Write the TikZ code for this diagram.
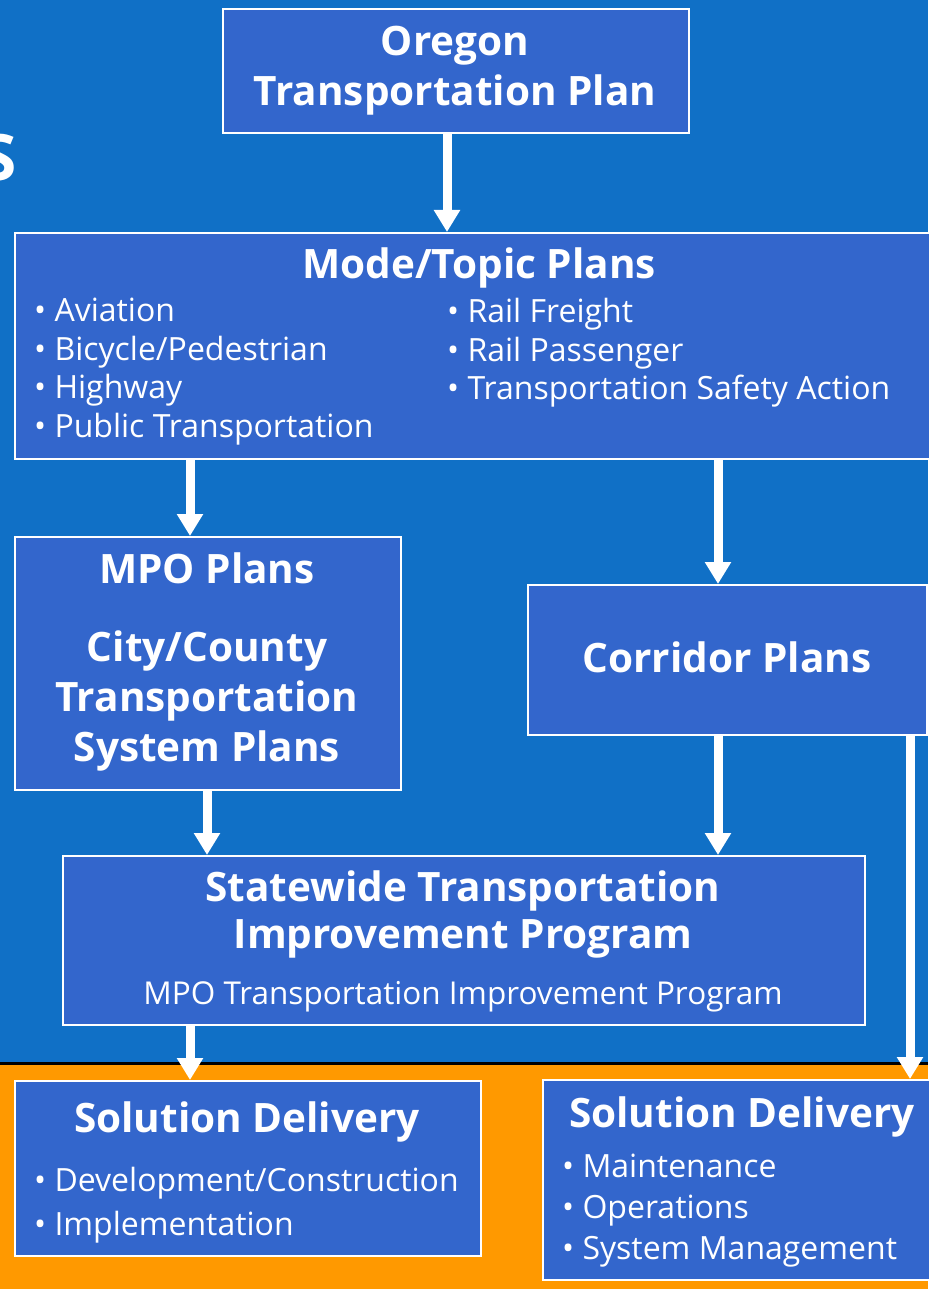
\documentclass[tikz,border=0pt]{standalone}
\usepackage{fontspec}
\setmainfont{Open Sans}
\usetikzlibrary{arrows.meta}

\definecolor{skyblue}{HTML}{1070C6}
\definecolor{boxblue}{HTML}{3366CC}
\definecolor{deliveryorange}{HTML}{FF9900}

\tikzset{
  plan/.style={draw=white, line width=2pt, fill=boxblue, text=white, inner sep=0pt, anchor=north west},
  flow/.style={draw=white, line width=9pt, -{Triangle[width=25pt,length=22pt]}},
  head/.style={font=\fontsize{40.5}{50}\selectfont\bfseries, text=white, align=center, inner sep=0pt},
  items/.style={font=\fontsize{32}{38.5}\selectfont, text=white, align=left, inner sep=0pt, anchor=north west}
}

\begin{document}
\begin{tikzpicture}[x=1pt, y=-1pt]
\useasboundingbox (0,0) rectangle (928,1289);
% Draw background
\fill[skyblue] (0,0) rectangle (928,1063);
\fill[deliveryorange] (0,1063) rectangle (928,1289);
\draw[black, line width=3pt] (0,1063.5) -- (928,1063.5);
\begin{scope}
\clip (0,0) rectangle (928,1289);
\node[head, font=\fontsize{64}{64}\selectfont\bfseries, anchor=east] (title) at (17,158) {S};
\end{scope}
% Draw plan boxes
\node[plan, minimum width=466, minimum height=124] (otp) at (222,8) {};
\node[head] at (455,71) {Oregon\\Transportation Plan};
\node[plan, minimum width=920, minimum height=226] (mode) at (14,232) {};
\node[head] (modetitle) at (479,268) {Mode/Topic Plans};
\node[items] (modeleft) at (34,298) {• Aviation\\• Bicycle/Pedestrian\\• Highway\\• Public Transportation};
\node[items] (moderight) at (447,298) {• Rail Freight\\• Rail Passenger\\• Transportation Safety Action};
\node[plan, minimum width=386, minimum height=253] (mpo) at (14,536) {};
\node[head] at (207,662) {MPO Plans\\[28pt]City/County\\Transportation\\System Plans};
\node[plan, minimum width=399, minimum height=150] (corridor) at (527,584) {};
\node[head] at (727,657) {Corridor Plans};
\node[plan, minimum width=802, minimum height=169] (stip) at (62,855) {};
\node[head] at (463,941) {Statewide Transportation\\[-3pt]Improvement Program\\[6pt]{\fontsize{31.5}{32}\selectfont\mdseries MPO Transportation Improvement Program}};
% Draw delivery boxes
\node[plan, minimum width=466, minimum height=175] (sdleft) at (14,1080) {};
\node[head] (sdlefttitle) at (247,1122) {Solution Delivery};
\node[items, font=\fontsize{32}{44}\selectfont] (sdleftitems) at (34,1167) {• Development/Construction\\• Implementation};
\node[plan, minimum width=392, minimum height=200] (sdright) at (542,1079) {};
\node[head] (sdrighttitle) at (742,1117) {Solution Delivery};
\node[items, font=\fontsize{32}{41}\selectfont] (sdrightitems) at (562,1154) {• Maintenance\\• Operations\\• System Management};
% Draw arrows
\coordinate (topx) at (447,0);
\coordinate (leftx) at (190,0);
\coordinate (mpox) at (207,0);
\coordinate (midx) at (718,0);
\coordinate (edgex) at (910,0);
\draw[flow] (otp.south -| topx) -- (mode.north -| topx);
\draw[flow] (mode.south -| leftx) -- (mpo.north -| leftx);
\draw[flow] (mode.south -| midx) -- (corridor.north -| midx);
\draw[flow] (mpo.south -| mpox) -- (stip.north -| mpox);
\draw[flow] (corridor.south -| midx) -- (stip.north -| midx);
\draw[flow] (stip.south -| leftx) -- (sdleft.north -| leftx);
\draw[flow] (corridor.south -| edgex) -- (sdright.north -| edgex);
\end{tikzpicture}
\end{document}
